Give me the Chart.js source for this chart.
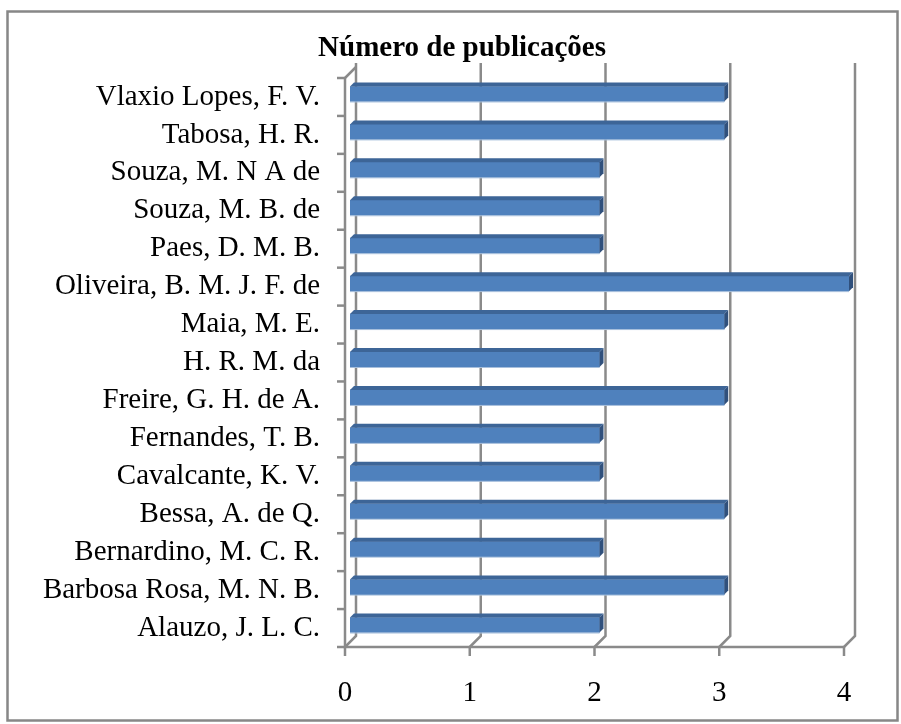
<!DOCTYPE html>
<html>
<head>
<meta charset="utf-8">
<script src="https://cdn.jsdelivr.net/npm/chart.js@4.4.1/dist/chart.umd.min.js"></script>
<style>
  html, body { margin: 0; padding: 0; background: #fff; }
  #wrap { width: 901px; height: 724px; position: relative; }
</style>
</head>
<body>
<div id="wrap"><canvas id="pubCanvas" width="901" height="724"></canvas></div>
<script>
const chartTitle = 'Número de publicações'
const authors = [
    'Vlaxio Lopes, F. V.',
    'Tabosa, H. R.',
    'Souza, M. N A de',
    'Souza, M. B. de',
    'Paes, D. M. B.',
    'Oliveira, B. M. J. F. de',
    'Maia, M. E.',
    'H. R. M. da',
    'Freire, G. H. de A.',
    'Fernandes, T. B.',
    'Cavalcante, K. V.',
    'Bessa, A. de Q.',
    'Bernardino, M. C. R.',
    'Barbosa Rosa, M. N. B.',
    'Alauzo, J. L. C.'
]
const publications = [3, 3, 2, 2, 2, 4, 3, 2, 3, 2, 2, 3, 2, 3, 2]
const valueTicks = [0, 1, 2, 3, 4]

const DEPTH = 11      // depth of the back wall
const BAR_SHIFT = 5   // bars sit half way into the depth
const BAR_D = 4       // depth of each bar
const GRID = '#8a8a8a'
const SERIF = '"Liberation Serif", "DejaVu Serif", serif'

// frame, title, floor/back wall grid and axes (excel 3d look)
const wallPlugin = {
    id: 'wall',
    beforeDraw(chart) {
        const ctx = chart.ctx
        const { left, right, top, bottom } = chart.chartArea
        const xs = chart.scales.x
        ctx.save()
        ctx.fillStyle = '#fff'
        ctx.fillRect(0, 0, chart.width, chart.height)
        ctx.strokeStyle = '#878787'
        ctx.lineWidth = 2.5
        ctx.strokeRect(7.5, 11.5, 890, 709)

        ctx.fillStyle = '#000'
        ctx.font = 'bold 29px ' + SERIF
        ctx.textAlign = 'center'
        ctx.textBaseline = 'middle'
        ctx.fillText(chartTitle, 462, 49)

        ctx.strokeStyle = GRID
        ctx.lineWidth = 2.5
        // back wall gridlines + floor slants
        valueTicks.forEach(v => {
            const px = xs.getPixelForValue(v)
            ctx.beginPath()
            ctx.moveTo(px + DEPTH, top - DEPTH - 4)
            ctx.lineTo(px + DEPTH, bottom - DEPTH)
            ctx.lineTo(px, bottom)
            ctx.stroke()
            // tick under the floor
            ctx.beginPath()
            ctx.moveTo(px, bottom)
            ctx.lineTo(px, bottom + 9)
            ctx.stroke()
        })
        // side wall top slant
        ctx.beginPath()
        ctx.moveTo(left, top)
        ctx.lineTo(left + DEPTH, top - DEPTH)
        ctx.stroke()
        // category axis
        ctx.beginPath()
        ctx.moveTo(left, top)
        ctx.lineTo(left, bottom)
        ctx.lineTo(xs.getPixelForValue(valueTicks[valueTicks.length - 1]), bottom)
        ctx.stroke()
        // category tick marks at band edges
        const band = (bottom - top) / authors.length
        for (let i = 0; i <= authors.length; i++) {
            const py = top + band * i
            ctx.beginPath()
            ctx.moveTo(left - 8, py)
            ctx.lineTo(left, py)
            ctx.stroke()
        }
        ctx.restore()
    },
    beforeDatasetsDraw(chart) {
        chart.ctx.save()
        chart.ctx.translate(BAR_SHIFT, -3)
    },
    afterDatasetsDraw(chart) {
        const ctx = chart.ctx
        chart.getDatasetMeta(0).data.forEach(bar => {
            const { x, y, base, height } = bar.getProps(['x', 'y', 'base', 'height'], true)
            const t = y - height / 2
            const b = y + height / 2
            // top face
            ctx.fillStyle = '#3d6597'
            ctx.beginPath()
            ctx.moveTo(base, t)
            ctx.lineTo(x, t)
            ctx.lineTo(x + BAR_D, t - BAR_D)
            ctx.lineTo(base + BAR_D, t - BAR_D)
            ctx.closePath()
            ctx.fill()
            // end face
            ctx.fillStyle = '#30507c'
            ctx.beginPath()
            ctx.moveTo(x, t)
            ctx.lineTo(x + BAR_D, t - BAR_D)
            ctx.lineTo(x + BAR_D, b - BAR_D)
            ctx.lineTo(x, b)
            ctx.closePath()
            ctx.fill()
            // light lower edge
            ctx.strokeStyle = '#a7bfdc'
            ctx.lineWidth = 1
            ctx.beginPath()
            ctx.moveTo(base, b + 0.5)
            ctx.lineTo(x, b + 0.5)
            ctx.stroke()
        })
        ctx.restore()
    }
}

new Chart(
    document.getElementById('pubCanvas'),
    {
        type: 'bar',
        data: {
            labels: authors,
            datasets: [{
                label: chartTitle,
                data: publications,
                backgroundColor: '#4f81bd',
                borderWidth: 0,
                barThickness: 15
            }]
        },
        options: {
            indexAxis: 'y',
            responsive: false,
            animation: false,
            events: [],
            layout: { padding: { left: 0, right: 57, top: 78, bottom: 0 } },
            plugins: {
                legend: { display: false },
                title: { display: false },
                tooltip: { enabled: false }
            },
            scales: {
                x: {
                    min: valueTicks[0],
                    max: valueTicks[valueTicks.length - 1],
                    grid: { display: false, drawTicks: false },
                    border: { display: false },
                    ticks: {
                        stepSize: 1,
                        padding: 29,
                        color: '#000',
                        font: { family: SERIF, size: 29 }
                    },
                    afterFit: s => { s.height = 77 }
                },
                y: {
                    grid: { display: false, drawTicks: false },
                    border: { display: false },
                    ticks: {
                        autoSkip: false,
                        padding: 25,
                        color: '#000',
                        font: { family: SERIF, size: 29 }
                    },
                    afterFit: s => { s.width = 345 }
                }
            }
        },
        plugins: [wallPlugin]
    }
)
</script>
</body>
</html>
